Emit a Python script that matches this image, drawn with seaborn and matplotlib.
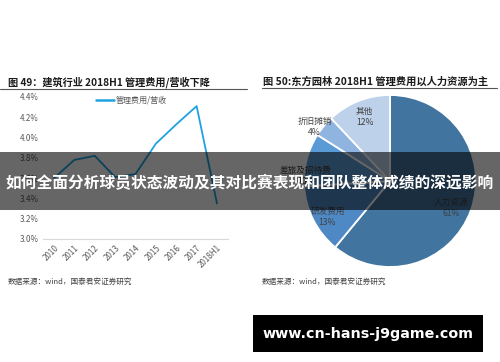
import numpy as np
import pandas as pd
import matplotlib
matplotlib.use("Agg")
import matplotlib.pyplot as plt
from matplotlib.patches import Rectangle
from matplotlib.lines import Line2D
import seaborn as sns

# ====== data ======
years = ["2010", "2011", "2012", "2013", "2014", "2015", "2016", "2017", "2018H1"]
admin_ratio = [3.60, 3.78, 3.82, 3.61, 3.64, 3.94, 4.13, 4.31, 3.35]
y_ticks = [3.0, 3.2, 3.4, 3.6, 3.8, 4.0, 4.2, 4.4]

cost_names = ["人力资源", "研发费用", "差旅及招待费", "折旧摊销", "其他"]
cost_share = [61, 13, 10, 4, 12]

left_title = "图 49：建筑行业 2018H1 管理费用/营收下降"
right_title = "图 50:东方园林 2018H1 管理费用以人力资源为主"
source_text = "数据来源：wind，国泰君安证券研究"
banner_text = "如何全面分析球员状态波动及其对比赛表现和团队整体成绩的深远影响"
watermark = "www.cn-hans-j9game.com"

sns.set_theme(style="white")
plt.rcParams["font.family"] = ["Noto Sans CJK SC", "DejaVu Sans"]

W, H = 500, 362
fig = plt.figure(figsize=(W / 100, H / 100), dpi=100)
fig.patch.set_facecolor("white")


def px_box(x0, y0, x1, y1):
    # pixel box (top-left origin) -> figure fraction rect
    return [x0 / W, 1 - y1 / H, (x1 - x0) / W, (y1 - y0) / H]


# ====== left: line chart ======
ax = fig.add_axes(px_box(43, 97, 228, 239))
df = pd.DataFrame({"year": years, "ratio": admin_ratio})
df["pos"] = np.arange(len(years))
sns.lineplot(data=df, x="pos", y="ratio", ax=ax, color="#1fa2de", linewidth=1.3,
             sort=False, legend=False)
ax.set_xlim(-0.54, len(years) - 1 + 0.54)
ax.set_ylim(3.0, 4.4)
ax.set_xticks(df["pos"])
ax.set_xticklabels(years, rotation=45, ha="right", rotation_mode="anchor",
                   fontsize=5.8, color="#595959")
ax.set_yticks(y_ticks)
ax.set_yticklabels([f"{v:.1f}%" for v in y_ticks], fontsize=5.8, color="#595959")
ax.tick_params(axis="both", length=0, pad=3)
ax.set_xlabel("")
ax.set_ylabel("")
for s in ["top", "right", "left"]:
    ax.spines[s].set_visible(False)
ax.spines["bottom"].set_color("#d9d9d9")
ax.spines["bottom"].set_linewidth(0.8)
ax.patch.set_alpha(0)
handle = Line2D([], [], color="#1fa2de", linewidth=1.8)
ax.legend([handle], ["管理费用/营收"], loc="center left", frameon=False,
          bbox_to_anchor=(89 / W, 1 - 100 / H), bbox_transform=fig.transFigure,
          fontsize=5.8, handlelength=2.2, handletextpad=0.2, labelcolor="#595959")

# ====== right: pie chart ======
pax = fig.add_axes(px_box(304, 95, 476, 267))
pie_colors = ["#4274a0", "#4f89c5", "#5b9bd5", "#8fb4e0", "#bdd1ea"]
wedges, _ = pax.pie(cost_share, colors=pie_colors, startangle=90, counterclock=False,
                    wedgeprops=dict(edgecolor="white", linewidth=1.3))
label_r = [0.78, 0.84, 0.98, 1.08, 0.80]
label_shift = [-4, 3, 11, 4, 0]
for w, name, share, r, dth in zip(wedges, cost_names, cost_share, label_r, label_shift):
    th = np.deg2rad((w.theta1 + w.theta2) / 2 + dth)
    pax.text(r * np.cos(th), r * np.sin(th), f"{name}\n{share}%", ha="center",
             va="center", fontsize=6.2, color="#404040", linespacing=1.3)
pax.set_xlim(-1, 1)
pax.set_ylim(-1, 1)
pax.set_aspect("equal")
pax.axis("off")

# ====== titles, rules, sources ======
fig.text(8 / W, 1 - 82 / H, left_title, fontsize=7.3, fontweight="bold",
         color="#1a1a1a", va="center", ha="left")
fig.text(263 / W, 1 - 82 / H, right_title, fontsize=7.4, fontweight="bold",
         color="#1a1a1a", va="center", ha="left")
fig.add_artist(Line2D([0 / W, 247 / W], [1 - 89 / H, 1 - 89 / H], color="#555555",
                      linewidth=0.8))
fig.add_artist(Line2D([262 / W, 497 / W], [1 - 88 / H, 1 - 88 / H], color="#555555",
                      linewidth=0.8))
fig.text(8 / W, 1 - 282 / H, source_text, fontsize=5.5, color="#404040",
         va="center", ha="left")
fig.text(262 / W, 1 - 282 / H, source_text, fontsize=5.5, color="#404040",
         va="center", ha="left")

# ====== overlay banner ======
fig.add_artist(Rectangle((0, 1 - 210 / H), 1, 58 / H, transform=fig.transFigure,
                         facecolor="black", alpha=0.6, edgecolor="none"))
fig.text(0.5, 1 - 183 / H, banner_text, fontsize=11.3, fontweight="bold",
         color="white", ha="center", va="center")

# ====== watermark ======
fig.add_artist(Rectangle((253 / W, 1 - 352 / H), 230 / W, 37 / H,
                         transform=fig.transFigure, facecolor="black",
                         edgecolor="none"))
fig.text(368 / W, 1 - 334 / H, watermark, fontsize=10.3, fontweight="bold",
         color="white", ha="center", va="center", family="DejaVu Sans")

fig.savefig("out.png", dpi=100, facecolor="white")
